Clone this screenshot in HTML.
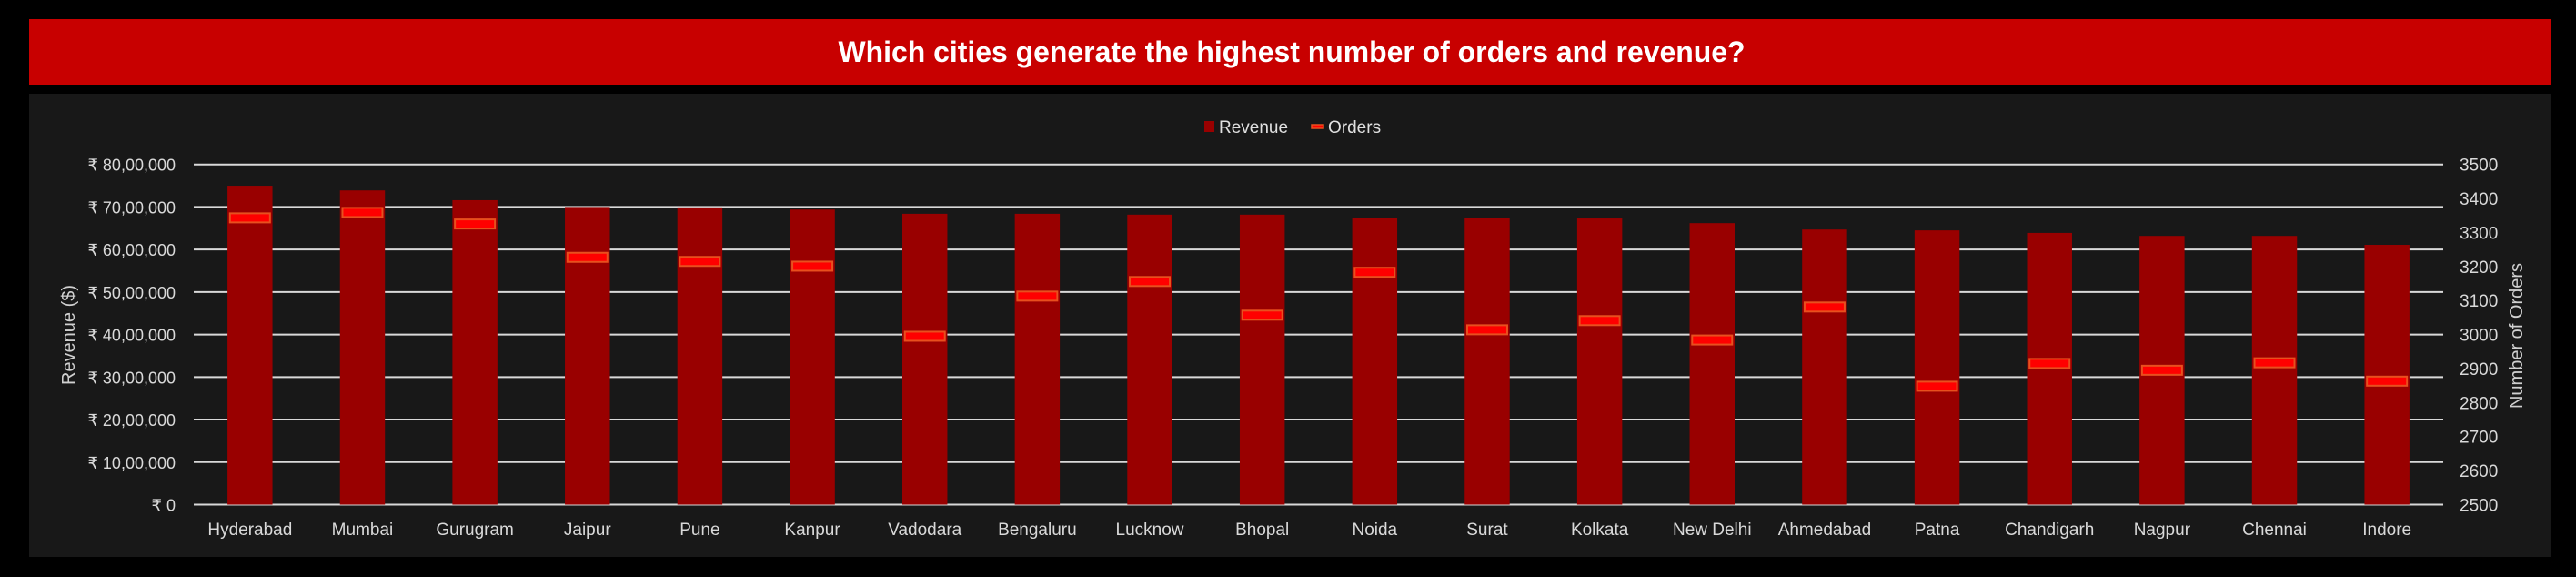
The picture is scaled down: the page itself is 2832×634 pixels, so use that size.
<!DOCTYPE html>
<html><head><meta charset="utf-8">
<style>
html,body{margin:0;padding:0;background:#000;}
svg{display:block;}
text{font-family:"Liberation Sans",sans-serif;}
</style></head>
<body>
<svg id="chart" width="2832" height="634" viewBox="0 0 2832 634" xmlns="http://www.w3.org/2000/svg">
<rect x="0" y="0" width="2832" height="634" fill="#000"/>
<rect x="32" y="21" width="2773" height="72" fill="#c80000"/>
<text x="1420" y="68" text-anchor="middle" fill="#fff" font-size="32" font-weight="bold" textLength="997" lengthAdjust="spacingAndGlyphs">Which cities generate the highest number of orders and revenue?</text>
<rect x="32" y="103" width="2773" height="509" fill="#181818"/>
<g>
<rect x="1324" y="133" width="11" height="12" fill="#990000"/>
<text x="1340" y="146" fill="#e0e0e0" font-size="19">Revenue</text>
<rect x="1442" y="137" width="13" height="4" fill="#ff0000" stroke="#e8501e" stroke-width="1.5"/>
<text x="1460" y="146" fill="#e0e0e0" font-size="19">Orders</text>
</g>
<g id="grid"></g><g id="bars"></g><g id="markers"></g><g id="axes"></g>
<text transform="translate(82,368) rotate(-90)" text-anchor="middle" fill="#d0d0d0" font-size="20">Revenue ($)</text>
<text transform="translate(2773,369) rotate(-90)" text-anchor="middle" fill="#d0d0d0" font-size="20">Number of Orders</text>
</svg>
<script>
const cities = ["Hyderabad","Mumbai","Gurugram","Jaipur","Pune","Kanpur","Vadodara","Bengaluru","Lucknow","Bhopal","Noida","Surat","Kolkata","New Delhi","Ahmedabad","Patna","Chandigarh","Nagpur","Chennai","Indore"];
const revenue = [7500000,7390000,7160000,7000000,6990000,6940000,6840000,6840000,6820000,6820000,6750000,6750000,6730000,6620000,6470000,6450000,6390000,6320000,6320000,6110000];
const orders = [3343,3359,3325,3227,3215,3201,2995,3113,3156,3057,3183,3014,3041,2984,3081,2848,2915,2895,2917,2863];
const revTicks = [0,1000000,2000000,3000000,4000000,5000000,6000000,7000000,8000000];
const revTickLabels = ["₹ 0","₹ 10,00,000","₹ 20,00,000","₹ 30,00,000","₹ 40,00,000","₹ 50,00,000","₹ 60,00,000","₹ 70,00,000","₹ 80,00,000"];
const ordTicks = [2500,2600,2700,2800,2900,3000,3100,3200,3300,3400,3500];

const NS = "http://www.w3.org/2000/svg";
const L = 213, R = 2686, T = 180.7, B = 554.5;
const band = (R - L) / cities.length;
const xc = i => L + band * (i + 0.5);
const yRev = v => B - (v / 8000000) * (B - T);
const yOrd = v => B - ((v - 2500) / 1000) * (B - T);
function mk(tag, attrs, parent){const e=document.createElementNS(NS,tag);for(const k in attrs)e.setAttribute(k,attrs[k]);parent.appendChild(e);return e;}
const grid=document.getElementById('grid'),bars=document.getElementById('bars'),markers=document.getElementById('markers'),axes=document.getElementById('axes');

revTicks.forEach((t,i)=>{
  const y=yRev(t);
  const g=mk('line',{x1:L,x2:R,y1:y,y2:y,stroke:'#d9d9d9','stroke-width':2},grid);
  
  
  const tx=mk('text',{x:193,y:y+7,'text-anchor':'end',fill:'#d9d9d9','font-size':18},axes);
  tx.textContent=revTickLabels[i];
  
  
});
ordTicks.forEach(t=>{
  const y=yOrd(t);
  const tx=mk('text',{x:2704,y:y+7,fill:'#d9d9d9','font-size':19},axes);
  tx.textContent=String(t);
  
  
});
cities.forEach((c,i)=>{
  const x=xc(i), bw=band*0.4;
  const b=mk('rect',{x:x-bw/2,y:yRev(revenue[i]),width:bw,height:B-yRev(revenue[i]),fill:'#990000'},bars);
  
  
  const m=mk('rect',{x:x-22,y:yOrd(orders[i])-5,width:44,height:10,fill:'#ff0000',stroke:'#e8501e','stroke-width':2},markers);
  
  
  const tx=mk('text',{x:x,y:588,'text-anchor':'middle',fill:'#d9d9d9','font-size':19},axes);
  tx.textContent=c;
  
  
});
</script>
</body></html>
